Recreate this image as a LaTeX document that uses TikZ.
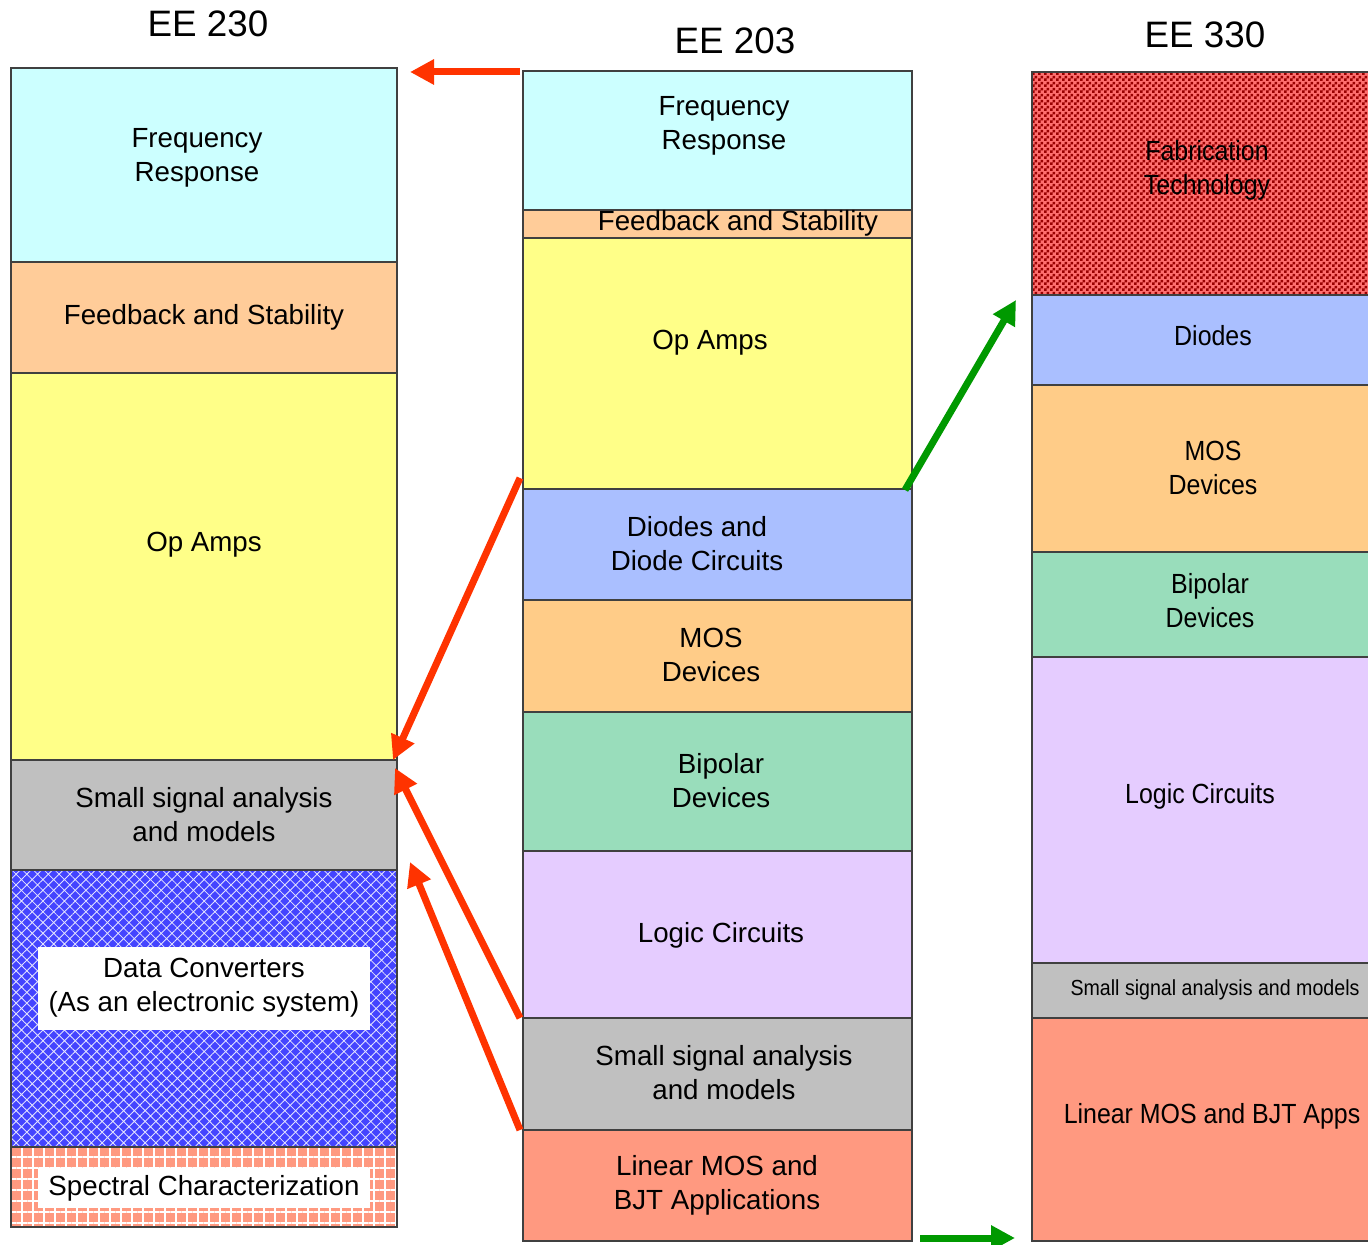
\documentclass[tikz,border=0pt]{standalone}
\usepackage{fontspec}
\setmainfont{Liberation Sans}
\newfontfamily\narrowsf[FakeStretch=0.9]{Liberation Sans}
\usetikzlibrary{arrows.meta,positioning,patterns,patterns.meta}
\definecolor{freq}{HTML}{CCFFFF}
\definecolor{fdbk}{HTML}{FFCC99}
\definecolor{opamp}{HTML}{FFFF88}
\definecolor{small}{HTML}{C0C0C0}
\definecolor{diode}{HTML}{AABFFF}
\definecolor{mos}{HTML}{FFCC88}
\definecolor{bipolar}{HTML}{99DDBB}
\definecolor{logic}{HTML}{E5CCFF}
\definecolor{linear}{HTML}{FF9980}
\definecolor{dataconv}{HTML}{4444FF}
\definecolor{fabdark}{HTML}{990000}
\definecolor{fablight}{HTML}{FF6F6F}
\definecolor{arrred}{HTML}{FF3300}
\definecolor{arrgrn}{HTML}{009900}
\pgfdeclarepattern{
  name=finecheck,
  type=uncolored,
  bottom left={\pgfpoint{0pt}{0pt}},
  top right={\pgfpoint{3pt}{3pt}},
  tile size={\pgfpoint{3pt}{3pt}},
  code={
    \pgfpathrectangle{\pgfpointorigin}{\pgfpoint{1.5pt}{1.5pt}}
    \pgfpathrectangle{\pgfpoint{1.5pt}{1.5pt}}{\pgfpoint{1.5pt}{1.5pt}}
    \pgfusepath{fill}
  }
}

\begin{document}
\begin{tikzpicture}[x=0.5pt, y=-0.5pt, node distance=0pt,
    blk/.style={draw=black!75, line width=0.6pt, rectangle, inner sep=0pt, outer sep=0pt},
    lcol/.style={blk, minimum width=193pt},
    mcol/.style={blk, minimum width=194.5pt},
    rcol/.style={blk, minimum width=170pt},
    txt/.style={align=center, inner sep=0pt, font=\fontsize{13.85}{17}\selectfont},
    rtxt/.style={align=center, inner sep=0pt, font=\narrowsf\fontsize{13.85}{17}\selectfont},
    ttl/.style={font=\fontsize{18.4}{22}\selectfont},
    redarr/.style={-{Triangle[length=12pt,width=12pt]}, line width=3.5pt, draw=arrred},
    grnarr/.style={-{Triangle[length=12pt,width=12pt]}, line width=3.5pt, draw=arrgrn}]
  \useasboundingbox (0,0) rectangle (1368,1245);

  \node[ttl] (t230) at (208,24) {EE 230};
  \node[ttl] (t203) at (735,41) {EE 203};
  \node[ttl] (t330) at (1205,35) {EE 330};

  % EE 230
  \node[lcol, fill=freq, minimum height=97pt, anchor=north west] (l-freq) at (11,68) {};
  \node[lcol, fill=fdbk, minimum height=55.5pt, below=of l-freq] (l-fb) {};
  \node[lcol, fill=opamp, minimum height=193.5pt, below=of l-fb] (l-op) {};
  \node[lcol, fill=small, minimum height=55pt, below=of l-op] (l-ss) {};
  \node[lcol, minimum height=138.5pt, below=of l-ss, preaction={fill=dataconv},
        pattern={Hatch[angle=45,distance=3.8pt,line width=0.4pt]}, pattern color=white!85!dataconv] (l-dc) {};
  \node[lcol, minimum height=40pt, below=of l-dc, preaction={fill=linear},
        pattern={Hatch[angle=0,distance=5.5pt,line width=0.6pt]}, pattern color=white] (l-sc) {};

  \node[txt] (l-freq-t) at (197,158) {Frequency\\Response};
  \node[txt] (l-fb-t) at (204,317) {Feedback and Stability};
  \node[txt] (l-op-t) at (204,545) {Op Amps};
  \node[txt] (l-ss-t) at (204,815) {Small signal analysis\\and models};
  \node[txt, fill=white, minimum width=166pt, minimum height=41.5pt] (l-dc-t) at (204,988)
       {Data Converters\\(As an electronic system)};
  \node[txt, fill=white, minimum width=166pt, minimum height=20pt] (l-sc-t) at (204,1188)
       {Spectral Characterization};

  % EE 203
  \node[mcol, fill=freq, minimum height=69.5pt, anchor=north west] (m-freq) at (523,71) {};
  \node[mcol, fill=fdbk, minimum height=14pt, below=of m-freq] (m-fb) {};
  \node[mcol, fill=opamp, minimum height=125.5pt, below=of m-fb] (m-op) {};
  \node[mcol, fill=diode, minimum height=55.5pt, below=of m-op] (m-di) {};
  \node[mcol, fill=mos, minimum height=56pt, below=of m-di] (m-mos) {};
  \node[mcol, fill=bipolar, minimum height=69.5pt, below=of m-mos] (m-bip) {};
  \node[mcol, fill=logic, minimum height=83.5pt, below=of m-bip] (m-log) {};
  \node[mcol, fill=small, minimum height=56pt, below=of m-log] (m-ss) {};
  \node[mcol, fill=linear, minimum height=55.5pt, below=of m-ss] (m-lin) {};

  \node[txt] (m-freq-t) at (724,126) {Frequency\\Response};
  \node[txt] (m-fb-t) at (738,223) {Feedback and Stability};
  \node[txt] (m-op-t) at (710,343) {Op Amps};
  \node[txt] (m-di-t) at (697,544) {Diodes and\\Diode Circuits};
  \node[txt] (m-mos-t) at (711,655) {MOS\\Devices};
  \node[txt] (m-bip-t) at (721,781) {Bipolar\\Devices};
  \node[txt] (m-log-t) at (721,935) {Logic Circuits};
  \node[txt] (m-ss-t) at (724,1073) {Small signal analysis\\and models};
  \node[txt] (m-lin-t) at (717,1185) {Linear MOS and\\BJT Applications};

  % EE 330
  \node[rcol, minimum height=111.5pt, anchor=north west, preaction={fill=fablight},
        pattern=finecheck, pattern color=fabdark] (r-fab) at (1032,72) {};
  \node[rcol, fill=diode, minimum height=45pt, below=of r-fab] (r-di) {};
  \node[rcol, fill=mos, minimum height=83.5pt, below=of r-di] (r-mos) {};
  \node[rcol, fill=bipolar, minimum height=52.5pt, below=of r-mos] (r-bip) {};
  \node[rcol, fill=logic, minimum height=153pt, below=of r-bip] (r-log) {};
  \node[rcol, fill=small, minimum height=27.5pt, below=of r-log] (r-ss) {};
  \node[rcol, fill=linear, minimum height=111.5pt, below=of r-ss] (r-lin) {};

  \node[rtxt] (r-fab-t) at (1207,170) {Fabrication\\Technology};
  \node[rtxt] (r-di-t) at (1213,336) {Diodes};
  \node[rtxt] (r-mos-t) at (1213,468) {MOS\\Devices};
  \node[rtxt] (r-bip-t) at (1210,601) {Bipolar\\Devices};
  \node[rtxt] (r-log-t) at (1200,796) {Logic Circuits};
  \node[rtxt, font=\narrowsf\fontsize{10.9}{12}\selectfont] (r-ss-t) at (1215,990) {Small signal analysis and models};
  \node[rtxt] (r-lin-t) at (1212,1116) {Linear MOS and BJT Apps};

  \draw[redarr] ([shift={(-3,1)}]m-freq.north west) -- ([shift={(13,4)}]l-freq.north east);
  \draw[redarr] ([shift={(-3,-11)}]m-op.south west) -- ([shift={(-4,0)}]l-ss.north east);
  \draw[redarr] ([shift={(-3,0)}]m-ss.north west) -- ([shift={(-2,8)}]l-ss.north east);
  \draw[redarr] ([shift={(-3,0)}]m-lin.north west) -- ([shift={(13,-8)}]l-dc.north east);
  \draw[grnarr] ([shift={(-7,1)}]m-di.north east) -- ([shift={(-16,5)}]r-di.north west);
  \draw[grnarr] ([shift={(8,-3)}]m-lin.south east) -- ([shift={(-17,-3)}]r-lin.south west);
\end{tikzpicture}
\end{document}
